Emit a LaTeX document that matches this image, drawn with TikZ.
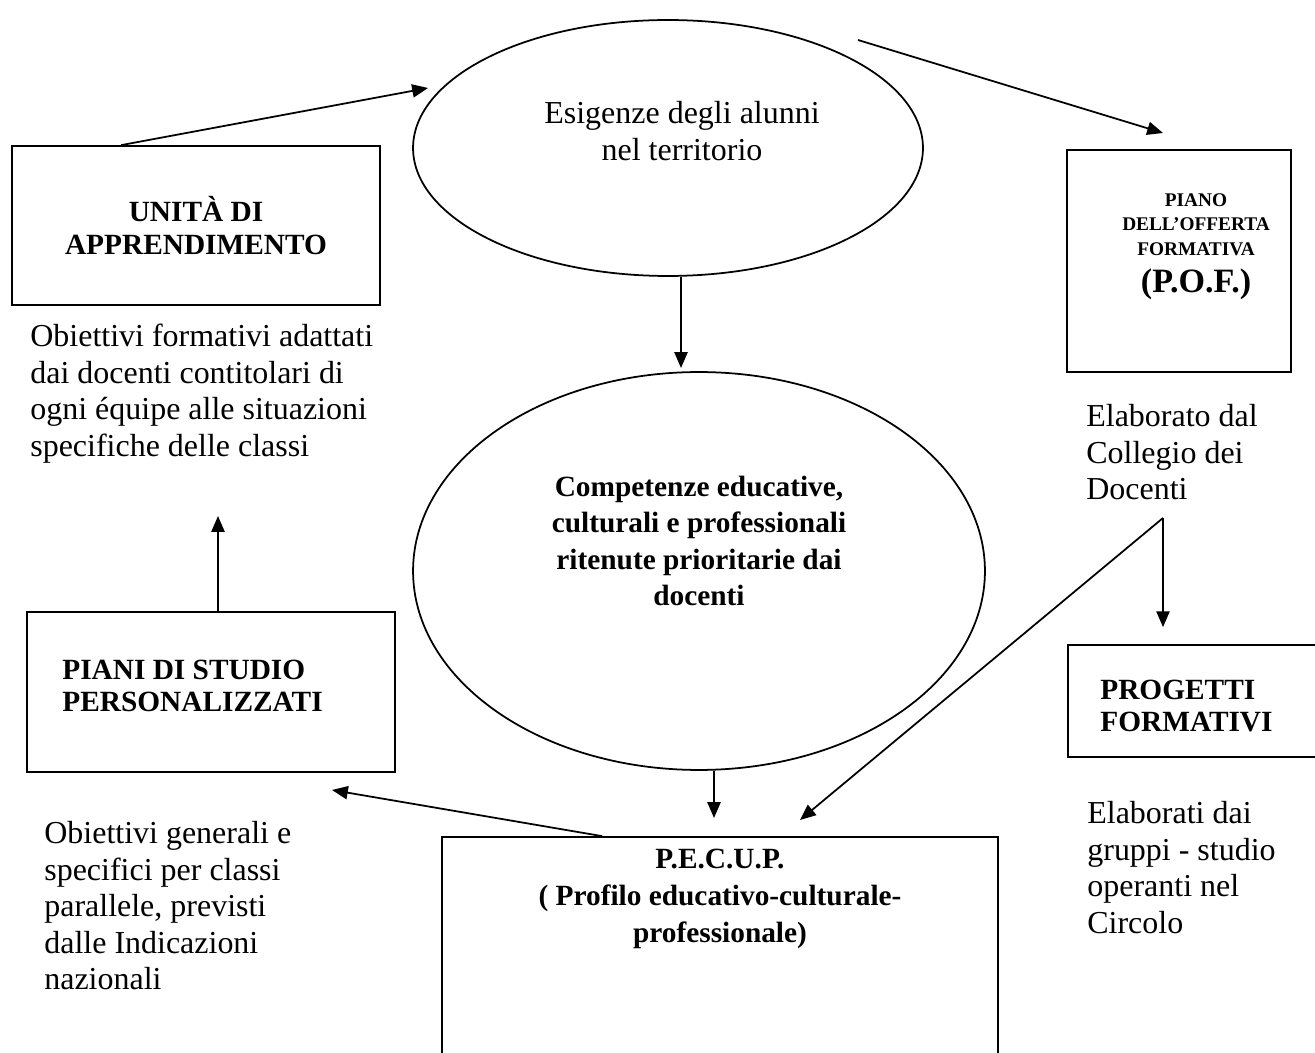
\documentclass[tikz,border=0pt]{standalone}
\usepackage{fontspec}
\setmainfont{Liberation Serif}
\usetikzlibrary{shapes.geometric, arrows.meta}
\tikzstyle{bubble} = [ellipse, draw=black, line width=1pt, inner sep=0]
\tikzstyle{io} = [rectangle, draw=black, line width=1pt, inner sep=0]
\tikzstyle{arrow} = [line width=1pt,-{Triangle[length=9pt,width=7.5pt]}]
\tikzstyle{txt} = [inner sep=0, align=left, font=\fontsize{18.2}{20.8}\selectfont]
\tikzstyle{bold} = [inner sep=0, align=center, font=\bfseries\fontsize{16.7}{18.5}\selectfont]
\begin{document}
\begin{tikzpicture}[x=0.02cm,y=-0.02cm]
\useasboundingbox (0,0) rectangle (1315,1053);
\clip (0,0) rectangle (1315,1053);
% ellipses
\node[bubble, minimum width=10.2cm, minimum height=5.12cm] (esig) at (668,148) {};
\node[txt, align=center] (esigtxt) at (682,131) {Esigenze degli alunni\\nel territorio};
\node[bubble, minimum width=11.44cm, minimum height=7.96cm] (comp) at (699,571) {};
\node[bold, font=\bfseries\fontsize{16.7}{20.8}\selectfont] (comptxt) at (699,541) {Competenze educative,\\culturali e professionali\\ritenute prioritarie dai\\docenti};
% boxes
\node[io, bold, minimum width=7.36cm, minimum height=3.18cm] (unita) at (196,225.5) {UNITÀ DI\\APPRENDIMENTO};
\node[io, minimum width=4.48cm, minimum height=4.44cm] (pof) at (1179,261) {};
\node[inner sep=0, align=center, font=\bfseries\fontsize{11}{14}\selectfont, anchor=north] (poftxt) at (1196,193) {PIANO\\DELL’OFFERTA\\FORMATIVA\\[7pt]{\fontsize{19.4}{19}\selectfont (P.O.F.)}};
\node[io, minimum width=7.36cm, minimum height=3.2cm] (piani) at (211,692) {};
\node[bold, align=left, anchor=west] (pianitxt) at (62,686) {PIANI DI STUDIO\\PERSONALIZZATI};
\node[io, minimum width=5.44cm, minimum height=2.24cm] (prog) at (1204,701) {};
\node[bold, align=left, anchor=west] (progtxt) at (1100,706) {PROGETTI\\FORMATIVI};
\node[io, minimum width=11.12cm, minimum height=5.26cm] (pecup) at (720,968.5) {};
\node[bold, anchor=north, font=\bfseries\fontsize{16.7}{21}\selectfont] (pecuptxt) at (720,849) {P.E.C.U.P.\\( Profilo educativo-culturale-\\professionale)};
% notes
\node[txt, anchor=north west] (obj1) at (30,324) {Obiettivi formativi adattati\\dai docenti contitolari di\\ogni équipe alle situazioni\\specifiche delle classi};
\node[txt, anchor=north west] (elab1) at (1086,404) {Elaborato dal\\Collegio dei\\Docenti};
\node[txt, anchor=north west] (obj2) at (44,821) {Obiettivi generali e\\specifici per classi\\parallele, previsti\\dalle Indicazioni\\nazionali};
\node[txt, anchor=north west] (elab2) at (1087,801) {Elaborati dai\\gruppi - studio\\operanti nel\\Circolo};
% arrows
\coordinate (t1) at (428,88);
\coordinate (s2) at (858,40);
\coordinate (t2) at (1163,133);
\coordinate (t3) at (681,368);
\coordinate (t4) at (218,516);
\coordinate (fork) at (1163,518);
\coordinate (t6) at (800,820);
\coordinate (t7) at (714,818);
\coordinate (t8) at (332,790);
\draw[arrow] ([xshift=2.2cm]unita.north west) -- (t1);
\draw[arrow] (s2) -- (t2);
\draw[arrow] (t3 |- esig.south) -- (t3);
\draw[arrow] (t4 |- piani.north) -- (t4);
\draw[arrow, shorten >=0.34cm] (fork) -- (fork |- prog.north);
\draw[arrow] (fork) -- (t6);
\draw[arrow] (t7 |- comp.south) -- (t7);
\draw[arrow] ([xshift=3.22cm]pecup.north west) -- (t8);
\end{tikzpicture}
\end{document}
